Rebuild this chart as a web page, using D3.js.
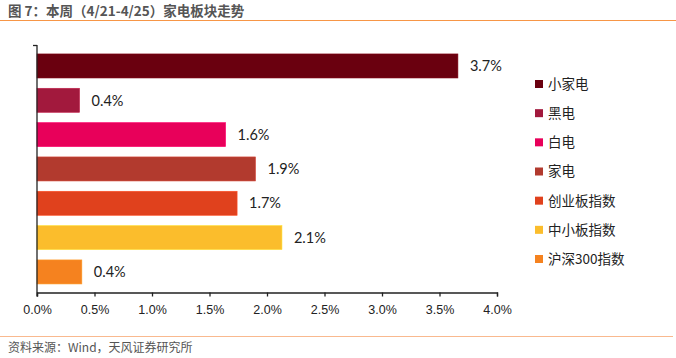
<!DOCTYPE html>
<html>
<head>
<meta charset="utf-8">
<script src="https://cdn.jsdelivr.net/npm/d3@7"></script>
<style>
  html, body { margin: 0; padding: 0; background: #fff; }
  svg { display: block; }
</style>
</head>
<body>
<svg id="chart" width="676" height="358"></svg>
<script>
const categories = ["小家电", "黑电", "白电", "家电", "创业板指数", "中小板指数", "沪深300指数"];
const values = [3.66, 0.37, 1.64, 1.90, 1.74, 2.13, 0.39];
const labels = ["3.7%", "0.4%", "1.6%", "1.9%", "1.7%", "2.1%", "0.4%"];
const colors = ["#6A000F", "#A2193D", "#E8005A", "#B23A2E", "#E0411D", "#FBBD2C", "#F5821F"];
const xTicks = [0, 0.5, 1.0, 1.5, 2.0, 2.5, 3.0, 3.5, 4.0];
const titleText = "图 7：本周（4/21-4/25）家电板块走势";
const sourceText = "资料来源：Wind，天风证券研究所";

const svg = d3.select("#chart");
const cjk = "'Noto Sans CJK SC', 'Liberation Sans', sans-serif";

// Title
svg.append("text").attr("x", 8).attr("y", 16)
  .attr("font-family", cjk).attr("font-size", 13.5).attr("font-weight", "bold")
  .attr("fill", "#555").text(titleText);
svg.append("line").attr("x1", 0).attr("x2", 676).attr("y1", 20.5).attr("y2", 20.5)
  .attr("stroke", "#F79646").attr("stroke-width", 1.2);

// Scales
const x = d3.scaleLinear().domain([0, 4]).range([37, 497]);
const y = d3.scaleBand().domain(categories).range([48.8, 289.1]).paddingInner(0.3).paddingOuter(0.15);

// Bars
svg.append("g").selectAll("rect").data(categories).join("rect")
  .attr("x", x(0))
  .attr("y", d => y(d))
  .attr("width", (d, i) => x(values[i]) - x(0))
  .attr("height", y.bandwidth())
  .attr("fill", (d, i) => colors[i])
  .attr("stroke", (d, i) => d3.color(colors[i]).brighter(0.5))
  .attr("stroke-width", 0.6);

// Value labels
svg.append("g").selectAll("text").data(categories).join("text")
  .attr("x", (d, i) => x(values[i]) + 12)
  .attr("y", d => y(d) + y.bandwidth() / 2)
  .attr("dy", "0.36em")
  .attr("font-family", "Lato, 'Liberation Sans', sans-serif")
  .attr("font-size", 14.5)
  .attr("fill", "#222")
  .text((d, i) => labels[i]);

// X axis
const xAxis = d3.axisBottom(x).tickValues(xTicks).tickFormat(d => d.toFixed(1) + "%").tickSizeOuter(0).tickSize(4);
const gx = svg.append("g").attr("transform", "translate(0,292.5)").call(xAxis);
gx.select(".domain").attr("stroke", "#222").attr("stroke-width", 1.3);
gx.selectAll(".tick line").attr("stroke", "#222").attr("stroke-width", 1.3);
gx.selectAll(".tick text").attr("font-family", "'Liberation Sans', Arial, sans-serif")
  .attr("font-size", 12.5).attr("fill", "#222").attr("dy", "1.15em");

// Y axis line with top tick
svg.append("line").attr("x1", x(0)).attr("x2", x(0)).attr("y1", 45).attr("y2", 296.5)
  .attr("stroke", "#222").attr("stroke-width", 1.3);
svg.append("line").attr("x1", x(0) - 4).attr("x2", x(0)).attr("y1", 45.5).attr("y2", 45.5)
  .attr("stroke", "#222").attr("stroke-width", 1.3);

// Legend
const legendY = d3.scalePoint().domain(categories).range([84, 259]);
const lg = svg.append("g").selectAll("g").data(categories).join("g")
  .attr("transform", d => `translate(535,${legendY(d)})`);
lg.append("rect").attr("x", 0).attr("y", -4).attr("width", 8).attr("height", 8)
  .attr("fill", (d, i) => colors[i]);
lg.append("text").attr("x", 13).attr("dy", "0.36em")
  .attr("font-family", cjk).attr("font-size", 13.5).attr("fill", "#222")
  .text(d => d);

// Bottom line and source
svg.append("line").attr("x1", 0).attr("x2", 673).attr("y1", 336.5).attr("y2", 336.5)
  .attr("stroke", "#F9B98F").attr("stroke-width", 1.2);
svg.append("text").attr("x", 8).attr("y", 352)
  .attr("font-family", cjk).attr("font-size", 12).attr("fill", "#555")
  .text(sourceText);
</script>
</body>
</html>
